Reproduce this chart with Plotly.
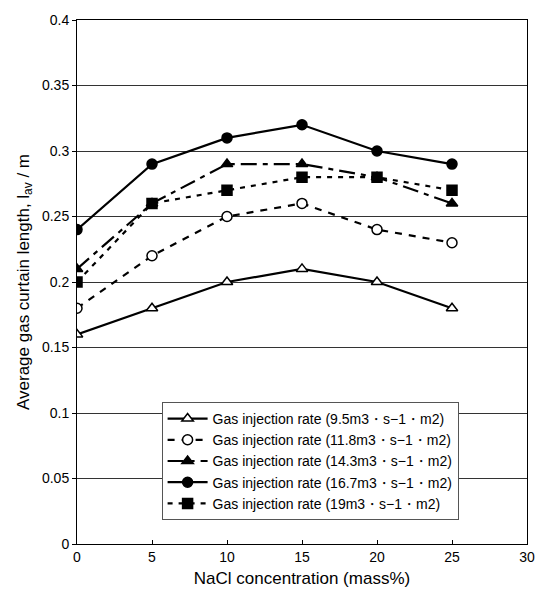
import plotly.graph_objects as go

nacl = [0, 5, 10, 15, 20, 25]
names = [
    "Gas injection rate (9.5m3・s−1・m2)",
    "Gas injection rate (11.8m3・s−1・m2)",
    "Gas injection rate (14.3m3・s−1・m2)",
    "Gas injection rate (16.7m3・s−1・m2)",
    "Gas injection rate (19m3・s−1・m2)",
]
rate_9_5 = [0.16, 0.18, 0.20, 0.21, 0.20, 0.18]
rate_11_8 = [0.18, 0.22, 0.25, 0.26, 0.24, 0.23]
rate_14_3 = [0.21, 0.26, 0.29, 0.29, 0.28, 0.26]
rate_16_7 = [0.24, 0.29, 0.31, 0.32, 0.30, 0.29]
rate_19 = [0.20, 0.26, 0.27, 0.28, 0.28, 0.27]

series = [rate_9_5, rate_11_8, rate_14_3, rate_16_7, rate_19]
symbols = ["triangle-up", "circle", "triangle-up", "circle", "square"]
fills = ["white", "white", "black", "black", "black"]
dashes = ["solid", "7px,7px", "16px,6px,5px,6px", "solid", "5px,6px"]

fig = go.Figure()
for name, ys, sym, fill, dash in zip(names, series, symbols, fills, dashes):
    fig.add_trace(go.Scatter(
        x=nacl, y=ys, name=name, mode="lines+markers",
        line=dict(color="black", width=2.2, dash=dash),
        marker=dict(symbol=sym, size=10, color=fill,
                    line=dict(color="black", width=1.5)),
    ))

fig.update_layout(
    width=547, height=599,
    margin=dict(l=77, r=17, t=16, b=55),
    paper_bgcolor="white", plot_bgcolor="white",
    font=dict(family="Liberation Sans, Arial, sans-serif", size=14, color="black"),
    showlegend=True,
    legend=dict(
        x=0.188, y=0.271, xanchor="left", yanchor="top",
        bgcolor="white", bordercolor="#555", borderwidth=1,
        font=dict(size=14), tracegroupgap=0, itemwidth=40,
    ),
    xaxis=dict(
        range=[0, 30], tickvals=[0, 5, 10, 15, 20, 25, 30],
        showgrid=False, zeroline=False, showline=True, linecolor="black", linewidth=1,
        mirror=True, ticks="inside", ticklen=4, tickcolor="black",
        title=dict(text="NaCl concentration (mass%)", standoff=8),
    ),
    yaxis=dict(
        range=[0, 0.4], tickvals=[0, 0.05, 0.1, 0.15, 0.2, 0.25, 0.3, 0.35, 0.4],
        ticktext=["0", "0.05", "0.1", "0.15", "0.2", "0.25", "0.3", "0.35", "0.4"],
        showgrid=True, gridcolor="#333", gridwidth=1,
        zeroline=False, showline=True, linecolor="black", linewidth=1,
        mirror=True, ticks="outside", ticklen=4, tickcolor="black",
        title=dict(text="Average gas curtain length, l<sub>av</sub> / m", standoff=8),
    ),
)

fig.write_html("out.html")
